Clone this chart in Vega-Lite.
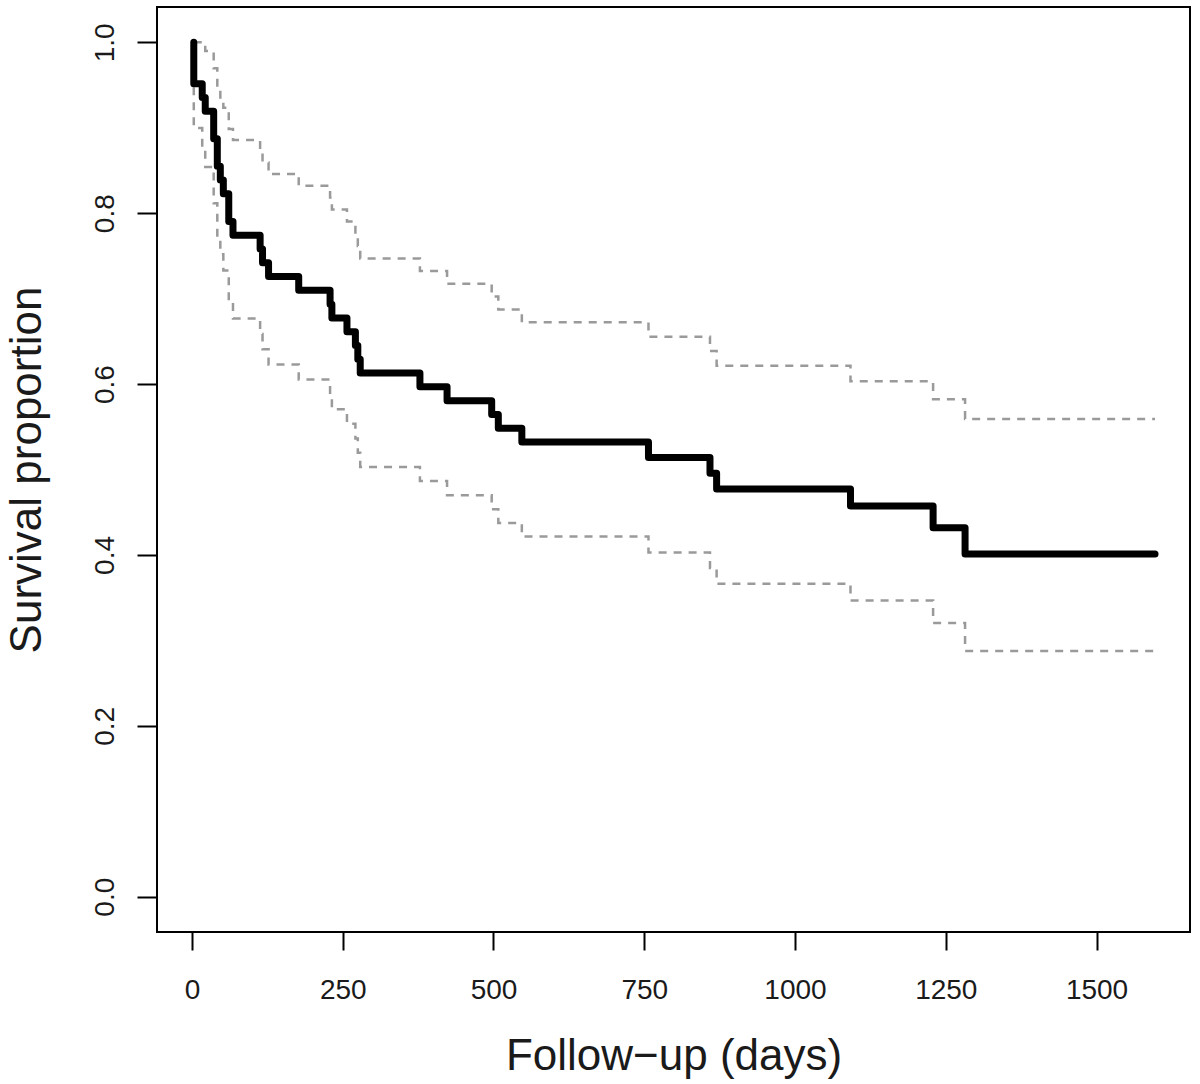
{
  "$schema": "https://vega.github.io/schema/vega-lite/v6.json",
  "width": 1033,
  "height": 925,
  "autosize": {"type": "none"},
  "padding": {"left": 157, "top": 7, "right": 10, "bottom": 152},
  "background": "white",
  "config": {
    "view": {"stroke": "black", "strokeWidth": 2},
    "font": "Liberation Sans"
  },
  "data": {
    "values": [
      {"t": 3, "s": 1.0, "g": "surv"},
      {"t": 3, "s": 0.9516, "g": "surv"},
      {"t": 17, "s": 0.9355, "g": "surv"},
      {"t": 22, "s": 0.9194, "g": "surv"},
      {"t": 36, "s": 0.8871, "g": "surv"},
      {"t": 42, "s": 0.8548, "g": "surv"},
      {"t": 47, "s": 0.8387, "g": "surv"},
      {"t": 52, "s": 0.8226, "g": "surv"},
      {"t": 61, "s": 0.7903, "g": "surv"},
      {"t": 68, "s": 0.7742, "g": "surv"},
      {"t": 113, "s": 0.7581, "g": "surv"},
      {"t": 117, "s": 0.7419, "g": "surv"},
      {"t": 127, "s": 0.7258, "g": "surv"},
      {"t": 177, "s": 0.7097, "g": "surv"},
      {"t": 229, "s": 0.6935, "g": "surv"},
      {"t": 232, "s": 0.6774, "g": "surv"},
      {"t": 257, "s": 0.6613, "g": "surv"},
      {"t": 271, "s": 0.6452, "g": "surv"},
      {"t": 275, "s": 0.629, "g": "surv"},
      {"t": 279, "s": 0.6129, "g": "surv"},
      {"t": 378, "s": 0.5968, "g": "surv"},
      {"t": 423, "s": 0.5806, "g": "surv"},
      {"t": 497, "s": 0.5645, "g": "surv"},
      {"t": 508, "s": 0.5484, "g": "surv"},
      {"t": 547, "s": 0.5323, "g": "surv"},
      {"t": 757, "s": 0.5139, "g": "surv"},
      {"t": 859, "s": 0.4956, "g": "surv"},
      {"t": 870, "s": 0.4772, "g": "surv"},
      {"t": 1092, "s": 0.4573, "g": "surv"},
      {"t": 1229, "s": 0.4319, "g": "surv"},
      {"t": 1282, "s": 0.4011, "g": "surv"},
      {"t": 1597, "s": 0.4011, "g": "surv"},

      {"t": 3, "s": 1.0, "g": "upper"},
      {"t": 17, "s": 0.9987, "g": "upper"},
      {"t": 22, "s": 0.9897, "g": "upper"},
      {"t": 36, "s": 0.9695, "g": "upper"},
      {"t": 42, "s": 0.9471, "g": "upper"},
      {"t": 47, "s": 0.9354, "g": "upper"},
      {"t": 52, "s": 0.9234, "g": "upper"},
      {"t": 61, "s": 0.8984, "g": "upper"},
      {"t": 68, "s": 0.8856, "g": "upper"},
      {"t": 113, "s": 0.8726, "g": "upper"},
      {"t": 117, "s": 0.8592, "g": "upper"},
      {"t": 127, "s": 0.8458, "g": "upper"},
      {"t": 177, "s": 0.8322, "g": "upper"},
      {"t": 229, "s": 0.8183, "g": "upper"},
      {"t": 232, "s": 0.8044, "g": "upper"},
      {"t": 257, "s": 0.7903, "g": "upper"},
      {"t": 271, "s": 0.776, "g": "upper"},
      {"t": 275, "s": 0.7615, "g": "upper"},
      {"t": 279, "s": 0.747, "g": "upper"},
      {"t": 378, "s": 0.7323, "g": "upper"},
      {"t": 423, "s": 0.7174, "g": "upper"},
      {"t": 497, "s": 0.7025, "g": "upper"},
      {"t": 508, "s": 0.6874, "g": "upper"},
      {"t": 547, "s": 0.6722, "g": "upper"},
      {"t": 757, "s": 0.6555, "g": "upper"},
      {"t": 859, "s": 0.6386, "g": "upper"},
      {"t": 870, "s": 0.6214, "g": "upper"},
      {"t": 1092, "s": 0.6032, "g": "upper"},
      {"t": 1229, "s": 0.5823, "g": "upper"},
      {"t": 1282, "s": 0.5592, "g": "upper"},
      {"t": 1597, "s": 0.5592, "g": "upper"},

      {"t": 3, "s": 1.0, "g": "lower"},
      {"t": 3, "s": 0.8997, "g": "lower"},
      {"t": 17, "s": 0.8763, "g": "lower"},
      {"t": 22, "s": 0.8541, "g": "lower"},
      {"t": 36, "s": 0.8117, "g": "lower"},
      {"t": 42, "s": 0.7715, "g": "lower"},
      {"t": 47, "s": 0.752, "g": "lower"},
      {"t": 52, "s": 0.7328, "g": "lower"},
      {"t": 61, "s": 0.6952, "g": "lower"},
      {"t": 68, "s": 0.6768, "g": "lower"},
      {"t": 113, "s": 0.6587, "g": "lower"},
      {"t": 117, "s": 0.6406, "g": "lower"},
      {"t": 127, "s": 0.6228, "g": "lower"},
      {"t": 177, "s": 0.6052, "g": "lower"},
      {"t": 229, "s": 0.5877, "g": "lower"},
      {"t": 232, "s": 0.5705, "g": "lower"},
      {"t": 257, "s": 0.5534, "g": "lower"},
      {"t": 271, "s": 0.5364, "g": "lower"},
      {"t": 275, "s": 0.5195, "g": "lower"},
      {"t": 279, "s": 0.5029, "g": "lower"},
      {"t": 378, "s": 0.4864, "g": "lower"},
      {"t": 423, "s": 0.4699, "g": "lower"},
      {"t": 497, "s": 0.4536, "g": "lower"},
      {"t": 508, "s": 0.4375, "g": "lower"},
      {"t": 547, "s": 0.4215, "g": "lower"},
      {"t": 757, "s": 0.4029, "g": "lower"},
      {"t": 859, "s": 0.3846, "g": "lower"},
      {"t": 870, "s": 0.3664, "g": "lower"},
      {"t": 1092, "s": 0.3467, "g": "lower"},
      {"t": 1229, "s": 0.3204, "g": "lower"},
      {"t": 1282, "s": 0.2877, "g": "lower"},
      {"t": 1597, "s": 0.2877, "g": "lower"}
    ]
  },
  "encoding": {
    "x": {
      "field": "t",
      "type": "quantitative",
      "scale": {"domain": [-58, 1655], "nice": false, "zero": false},
      "axis": {
        "title": "Follow−up (days)",
        "values": [0, 250, 500, 750, 1000, 1250, 1500],
        "format": "d",
        "grid": false,
        "domain": false,
        "ticks": true,
        "tickSize": 18,
        "tickWidth": 2,
        "tickColor": "black",
        "labelFont": "Liberation Sans",
        "labelFontSize": 28,
        "labelColor": "#1a1a1a",
        "labelBaseline": "alphabetic",
        "labelPadding": 48,
        "labelFlush": false,
        "labelOverlap": false,
        "titleFont": "Liberation Sans",
        "titleFontSize": 44,
        "titleFontWeight": "normal",
        "titleColor": "#1a1a1a",
        "titleBaseline": "alphabetic",
        "titleY": 137
      }
    },
    "y": {
      "field": "s",
      "type": "quantitative",
      "scale": {"domain": [-0.0413, 1.0413], "nice": false, "zero": false},
      "axis": {
        "title": "Survival proportion",
        "values": [0, 0.2, 0.4, 0.6, 0.8, 1.0],
        "format": ".1f",
        "grid": false,
        "domain": false,
        "ticks": true,
        "tickSize": 20,
        "tickWidth": 2,
        "tickColor": "black",
        "labelFont": "Liberation Sans",
        "labelFontSize": 28,
        "labelColor": "#1a1a1a",
        "labelAngle": -90,
        "labelAlign": "center",
        "labelBaseline": "alphabetic",
        "labelPadding": 24,
        "labelFlush": false,
        "labelOverlap": false,
        "titleFont": "Liberation Sans",
        "titleFontSize": 44,
        "titleFontWeight": "normal",
        "titleColor": "#1a1a1a",
        "titleBaseline": "alphabetic",
        "titleAngle": -90,
        "titleX": -117
      }
    }
  },
  "layer": [
    {
      "transform": [{"filter": "datum.g === 'upper'"}],
      "mark": {"type": "line", "interpolate": "step-after", "color": "#9a9a9a", "strokeWidth": 2.5, "strokeDash": [8, 7]}
    },
    {
      "transform": [{"filter": "datum.g === 'lower'"}],
      "mark": {"type": "line", "interpolate": "step-after", "color": "#9a9a9a", "strokeWidth": 2.5, "strokeDash": [8, 7]}
    },
    {
      "transform": [{"filter": "datum.g === 'surv'"}],
      "mark": {"type": "line", "interpolate": "step-after", "color": "black", "strokeWidth": 7, "strokeCap": "round", "strokeJoin": "round"}
    }
  ]
}
